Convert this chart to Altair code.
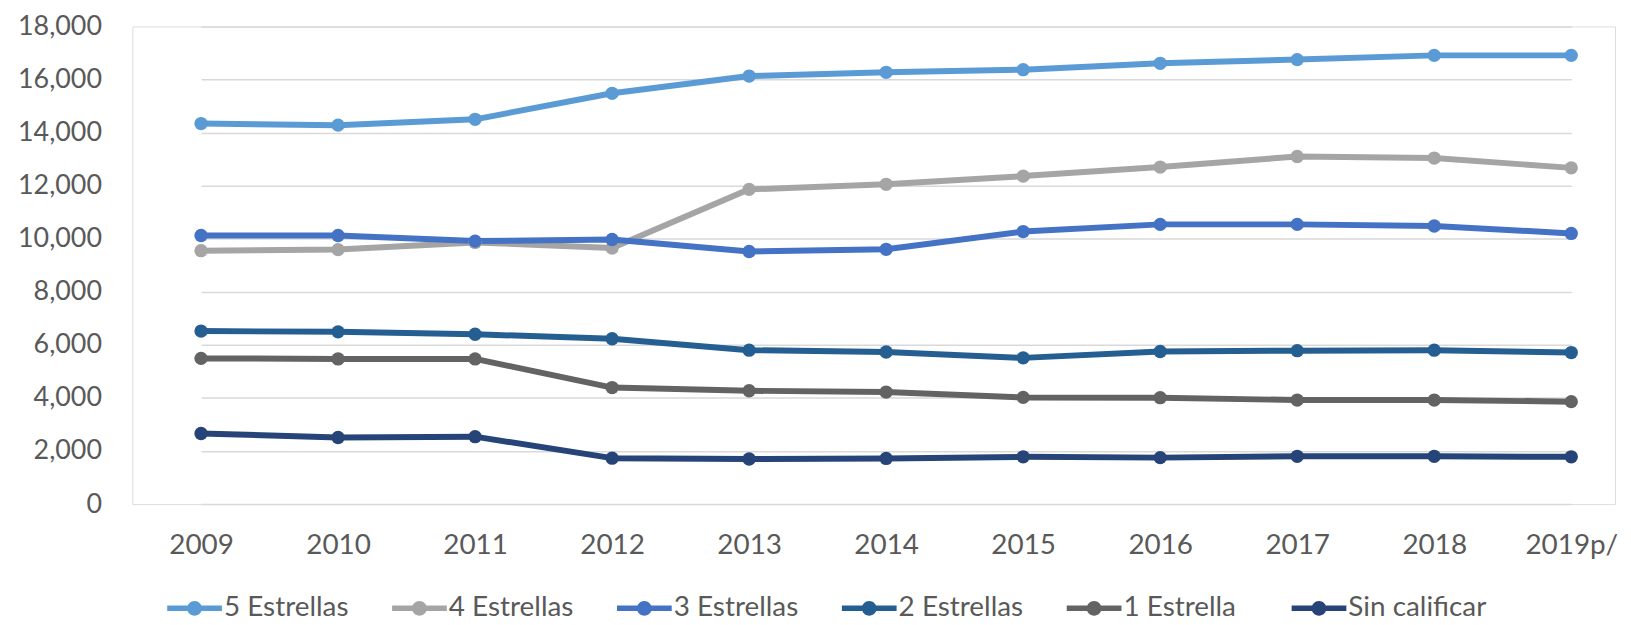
import altair as alt
import pandas as pd

years = ["2009", "2010", "2011", "2012", "2013", "2014", "2015", "2016", "2017", "2018", "2019p/"]
series = ["5 Estrellas", "4 Estrellas", "3 Estrellas", "2  Estrellas", "1 Estrella", "Sin calificar"]
colors = ["#5B9BD5", "#A5A5A5", "#4472C4", "#255E91", "#636363", "#264478"]

v5 = [14340, 14280, 14500, 15480, 16130, 16270, 16370, 16610, 16750, 16910, 16910]
v4 = [9550, 9590, 9860, 9650, 11860, 12050, 12360, 12700, 13100, 13040, 12670]
v3 = [10120, 10120, 9910, 9970, 9520, 9600, 10270, 10540, 10540, 10480, 10200]
v2 = [6520, 6490, 6400, 6230, 5800, 5730, 5510, 5750, 5780, 5800, 5710]
v1 = [5490, 5470, 5470, 4390, 4270, 4220, 4020, 4010, 3920, 3920, 3860]
vs = [2660, 2510, 2540, 1730, 1700, 1720, 1780, 1750, 1800, 1800, 1780]

rows = []
for s, vals in zip(series, [v5, v4, v3, v2, v1, vs]):
    for y, v in zip(years, vals):
        rows.append({"year": y, "serie": s, "valor": v, "orden": series.index(s)})
df = pd.DataFrame(rows)

FONT = "Lato"
TXT = "#595959"

legend_path = ("M-1,-0.1L1,-0.1L1,0.1L-1,0.1Z "
               "M0.27,0A0.27,0.27,0,1,1,-0.27,0A0.27,0.27,0,1,1,0.27,0Z")

x = alt.X("year:N", sort=years,
          scale=alt.Scale(domain=years, range=[69, 1446], padding=0),
          axis=alt.Axis(title=None, labelAngle=0, ticks=False, domain=False, grid=False,
                        labelPadding=28, labelFontSize=28, labelColor=TXT, labelFont=FONT))
y = alt.Y("valor:Q", scale=alt.Scale(domain=[0, 18000], nice=False),
          axis=alt.Axis(title=None, values=list(range(0, 18001, 2000)), format=",d",
                        ticks=False, domain=False, grid=True, gridColor="#D9D9D9",
                        gridWidth=1.5, labelPadding=31, labelFontSize=27,
                        labelColor=TXT, labelFont=FONT))
color = alt.Color("serie:N", scale=alt.Scale(domain=series, range=colors),
                  legend=alt.Legend(title=None, orient="none", legendX=35, legendY=557,
                                    direction="horizontal", columns=6, gridAlign="all",
                                    columnPadding=30, symbolType=legend_path,
                                    symbolSize=3025, symbolStrokeWidth=0,
                                    symbolOpacity=1,
                                    labelFontSize=28, labelColor=TXT, labelFont=FONT,
                                    labelOffset=2, labelLimit=400))

base = alt.Chart(df).encode(x=x, y=y, color=color, order=alt.Order("orden:Q"))
lines = base.mark_line(strokeWidth=6, strokeCap="round", strokeJoin="round")
points = base.mark_point(filled=True, size=180, opacity=1)

chart = alt.layer(lines, points).properties(
    width=1490, height=480,
    autosize=alt.AutoSizeParams(type="none"),
    padding={"left": 125, "top": 17, "right": 8, "bottom": 120},
).configure_view(stroke=None).configure(background="white")

chart.save("out.html", embed_options={"renderer": "svg", "actions": False})
